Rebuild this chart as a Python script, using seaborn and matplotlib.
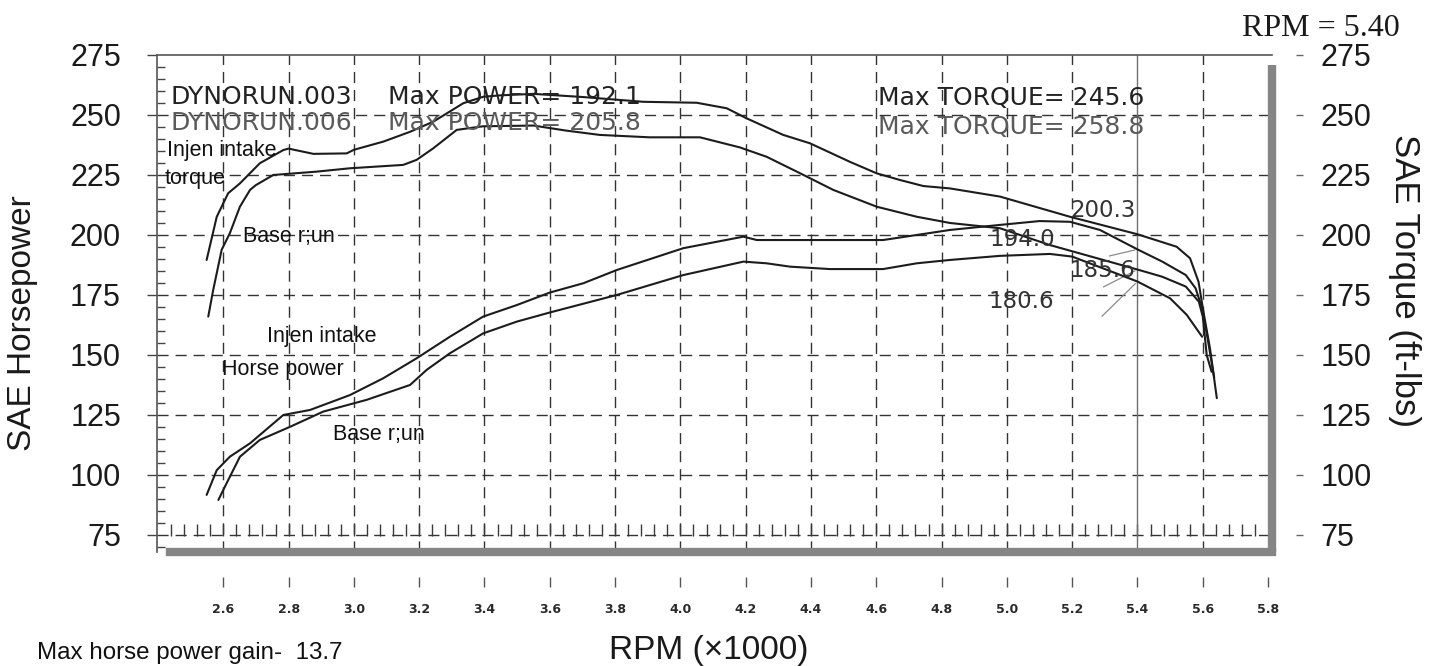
import numpy as np
import pandas as pd
import matplotlib
matplotlib.use("Agg")
import matplotlib.pyplot as plt
import seaborn as sns

# ---------------- data ----------------
rpm_tq_injen = [2.549, 2.58, 2.615, 2.651, 2.712, 2.784, 2.80, 2.876, 2.978, 3.0, 3.09, 3.172,
                3.243, 3.335, 3.396, 3.45, 3.55, 3.70, 3.886, 4.05, 4.142, 4.203, 4.315, 4.397,
                4.519, 4.601, 4.673, 4.744, 4.826, 4.979, 5.193, 5.40, 5.52, 5.561, 5.587,
                5.602, 5.622, 5.643]
tq_injen = [189.6, 207.6, 217.4, 221.5, 229.9, 235.4, 236.0, 233.8, 234.0, 235.5, 238.9, 243.0,
            247.2, 254.9, 257.6, 258.2, 258.8, 257.5, 255.5, 255.1, 252.8, 248.6, 241.7, 238.2,
            230.5, 225.7, 222.9, 220.4, 219.4, 216.0, 207.6, 200.3, 195.1, 190.3, 180.5,
            168.0, 152.8, 132.0]

rpm_tq_base = [2.554, 2.569, 2.595, 2.62, 2.651, 2.682, 2.70, 2.753, 2.886, 2.988, 3.151, 3.192,
               3.243, 3.315, 3.396, 3.45, 3.55, 3.65, 3.753, 3.906, 4.06, 4.182, 4.264, 4.367,
               4.468, 4.601, 4.724, 4.826, 4.979, 5.132, 5.40, 5.476, 5.548, 5.588, 5.60,
               5.612, 5.627]
tq_base = [166.0, 177.0, 193.8, 200.7, 211.8, 218.8, 220.8, 225.0, 226.4, 227.8, 229.2, 231.3,
           236.1, 243.8, 245.3, 245.4, 245.6, 243.5, 241.7, 240.7, 240.7, 236.5, 232.6, 225.7,
           218.8, 211.8, 207.6, 205.0, 202.8, 195.8, 185.6, 182.6, 178.5, 172.2, 166.0,
           150.0, 143.0]

rpm_hp_injen = [2.549, 2.58, 2.62, 2.682, 2.784, 2.866, 2.988, 3.09, 3.192, 3.294, 3.396, 3.499,
                3.60, 3.703, 3.805, 4.009, 4.193, 4.234, 4.45, 4.621, 4.724, 4.826, 4.979, 5.10,
                5.193, 5.285, 5.40, 5.476, 5.548, 5.578, 5.598, 5.613, 5.635]
hp_injen = [91.7, 102.0, 107.6, 113.2, 125.0, 127.1, 133.3, 140.3, 148.6, 157.6, 166.0, 170.8,
            176.0, 179.9, 185.4, 194.5, 199.3, 197.9, 197.9, 197.9, 200.0, 202.1, 204.2, 205.8,
            205.5, 202.1, 194.0, 188.9, 183.3, 177.8, 169.4, 158.3, 140.6]

rpm_hp_base = [2.585, 2.61, 2.651, 2.712, 2.805, 2.906, 3.039, 3.172, 3.223, 3.294, 3.396, 3.499,
               3.60, 3.805, 4.009, 4.193, 4.264, 4.336, 4.458, 4.621, 4.724, 4.826, 4.979, 5.132,
               5.20, 5.40, 5.50, 5.551, 5.598]
hp_base = [89.6, 96.5, 107.6, 114.6, 120.1, 126.4, 131.3, 137.5, 143.8, 150.7, 159.0, 163.9,
           167.7, 175.0, 183.3, 188.9, 188.2, 186.8, 185.8, 185.8, 188.2, 189.6, 191.3, 192.1,
           191.0, 180.6, 173.6, 166.7, 157.6]

cursor_rpm = 5.40
readout_values = [200.3, 194.0, 185.6, 180.6]
readout_labels = ["200.3", "194.0", "185.6", "180.6"]

x_ticks = [2.6, 2.8, 3.0, 3.2, 3.4, 3.6, 3.8, 4.0, 4.2, 4.4, 4.6, 4.8, 5.0, 5.2, 5.4, 5.6, 5.8]
x_tick_labels = ["2.6", "2.8", "3.0", "3.2", "3.4", "3.6", "3.8", "4.0", "4.2", "4.4", "4.6",
                 "4.8", "5.0", "5.2", "5.4", "5.6", "5.8"]
y_ticks = [75, 100, 125, 150, 175, 200, 225, 250, 275]
y_tick_labels = ["75", "100", "125", "150", "175", "200", "225", "250", "275"]

# ---------------- style ----------------
sns.set_theme(style="white")
plt.rcParams["font.family"] = ["Liberation Sans", "DejaVu Sans"]

fig = plt.figure(figsize=(14.4, 6.66), dpi=100)
fig.patch.set_facecolor("white")
# axes box: x 157..1272 px, y 55..552 px
ax = fig.add_axes([157 / 1440, 1 - 552 / 666, 1115 / 1440, 497 / 666])
ax.set_facecolor("white")

XMIN, XMAX = 2.397, 5.812
YMIN, YMAX = 67.9, 275
ax.set_xlim(XMIN, XMAX)
ax.set_ylim(YMIN, YMAX)

grid_kw = dict(color="#333333", lw=1.0, linestyle=(0, (8, 5)), zorder=1)
for xv in x_ticks:
    if xv < 5.75 and abs(xv - cursor_rpm) > 1e-6:
        ax.axvline(xv, **grid_kw)
for yv in y_ticks[:-1]:
    ax.axhline(yv, **grid_kw)

# ruler marks on the 75 line
ruler = np.arange(2.44, 5.80, 0.04)
ax.plot(ruler, np.full_like(ruler, 77.2), linestyle="none", marker="|", markersize=8,
        color="#3a3a3a", markeredgewidth=1.0, zorder=1)

# cursor line
ax.axvline(cursor_rpm, color="#707070", lw=1.0, zorder=2)

# ---------------- curves ----------------
curves = [
    (rpm_tq_injen, tq_injen),
    (rpm_tq_base, tq_base),
    (rpm_hp_injen, hp_injen),
    (rpm_hp_base, hp_base),
]
for xs, ys in curves:
    df = pd.DataFrame({"rpm": xs, "val": ys})
    sns.lineplot(data=df, x="rpm", y="val", ax=ax, color="#1c1c1c", lw=1.5,
                 estimator=None, sort=False, zorder=4)

# ---------------- spines / ticks ----------------
ax.spines["top"].set_color("#555555")
ax.spines["top"].set_linewidth(1.2)
ax.spines["left"].set_color("#555555")
ax.spines["left"].set_linewidth(1.2)
ax.spines["right"].set_visible(False)
ax.spines["bottom"].set_visible(False)
ax.spines["bottom"].set_position(("outward", 18))

# thick grey frame on right and bottom
ax.plot([1.0, 1.0], [0.0, 0.98], transform=ax.transAxes, color="#858585", lw=6,
        solid_capstyle="butt", clip_on=False, zorder=5)
ax.plot([0.012, 1.0], [0.0, 0.0], transform=ax.transAxes, color="#858585", lw=6,
        solid_capstyle="projecting", clip_on=False, zorder=5)

ax.set_xticks(x_ticks)
ax.set_xticklabels(x_tick_labels, fontfamily="DejaVu Sans", fontweight="bold",
                   fontsize=9, color="#2a2a2a")
ax.tick_params(axis="x", which="major", direction="out", length=7, width=1,
               color="#555555", pad=12, bottom=True)

ax.set_yticks(y_ticks)
ax.set_yticklabels(y_tick_labels, fontsize=22, color="#1a1a1a")
ax.set_yticks(np.arange(70, 275, 5), minor=True)
ax.tick_params(axis="y", which="major", direction="out", length=7, width=1,
               color="#444444", pad=19, left=True)
ax.tick_params(axis="y", which="minor", direction="in", length=6, width=1,
               color="#444444", left=True, right=True)

ax.set_xlabel("")
ax.set_ylabel("")

# right axis for torque labels
ax2 = ax.twinx()
ax2.set_ylim(YMIN, YMAX)
for s in ax2.spines.values():
    s.set_visible(False)
ax2.spines["right"].set_position(("outward", 17))
ax2.set_yticks(y_ticks)
ax2.set_yticklabels(y_tick_labels, fontsize=22, color="#1a1a1a")
ax2.tick_params(axis="y", which="major", direction="out", length=5, width=1,
                color="#666666", pad=13, right=True)
ax2.grid(False)

# ---------------- annotations ----------------
mono = "DejaVu Sans"
ax.text(2.437, 257.6, "DYNORUN.003", fontfamily=mono, fontsize=18, color="#222222",
        va="center", ha="left", zorder=6)
ax.text(3.104, 257.6, "Max POWER= 192.1", fontfamily=mono, fontsize=18, color="#222222",
        va="center", ha="left", zorder=6)
ax.text(2.437, 246.5, "DYNORUN.006", fontfamily=mono, fontsize=18, color="#5a5a5a",
        va="center", ha="left", zorder=6)
ax.text(3.104, 246.5, "Max POWER= 205.8", fontfamily=mono, fontsize=18, color="#5a5a5a",
        va="center", ha="left", zorder=6)
ax.text(4.605, 257.0, "Max TORQUE= 245.6", fontfamily=mono, fontsize=18, color="#222222",
        va="center", ha="left", zorder=6)
ax.text(4.605, 245.1, "Max TORQUE= 258.8", fontfamily=mono, fontsize=18, color="#5a5a5a",
        va="center", ha="left", zorder=6)

note_kw = dict(fontsize=15.5, color="#111111", va="center", ha="left", zorder=6)
ax.text(2.428, 235.4, "Injen intake", **note_kw)
ax.text(2.421, 223.6, "torque", **note_kw)
ax.text(2.660, 199.3, "Base r;un", **note_kw)
ax.text(2.734, 157.6, "Injen intake", **note_kw)
ax.text(2.596, 143.75, "Horse power", **note_kw)
ax.text(2.936, 116.7, "Base r;un", **note_kw)

# cursor readouts
label_pos = [(5.193, 210.4), (4.948, 198.0), (5.193, 185.4), (4.942, 172.2)]
for (lx, ly), lab in zip(label_pos, readout_labels):
    ax.text(lx, ly, lab, fontfamily=mono, fontsize=16.5, color="#333333",
            va="center", ha="left", zorder=6)
leader_starts = [(5.306, 191.0), (5.288, 177.8), (5.285, 165.3)]
for (sx, sy), val in zip(leader_starts, readout_values[1:]):
    ax.annotate("", xy=(cursor_rpm, val), xytext=(sx, sy),
                arrowprops=dict(arrowstyle="-", color="#8a8a8a", lw=0.9), zorder=3)

# ---------------- figure texts ----------------
fig.text(1400 / 1440, 1 - 28 / 666, "RPM = 5.40", fontfamily="Liberation Serif", fontsize=23,
         color="#1a1a1a", ha="right", va="center")
fig.text(37 / 1440, 1 - 653 / 666, "Max horse power gain-  13.7", fontsize=17.4,
         color="#111111", ha="left", va="center")
fig.text(709 / 1440, 1 - 650 / 666, "RPM (\u00d71000)", fontsize=24, color="#1a1a1a",
         ha="center", va="center")
fig.text(23 / 1440, 1 - 323 / 666, "SAE Horsepower", fontsize=24, color="#1a1a1a",
         rotation=90, ha="center", va="center")
fig.text(1405 / 1440, 1 - 280 / 666, "SAE Torque (ft-lbs)", fontsize=25, color="#1a1a1a",
         rotation=270, ha="center", va="center")

fig.savefig("out.png", dpi=100, facecolor="white")
